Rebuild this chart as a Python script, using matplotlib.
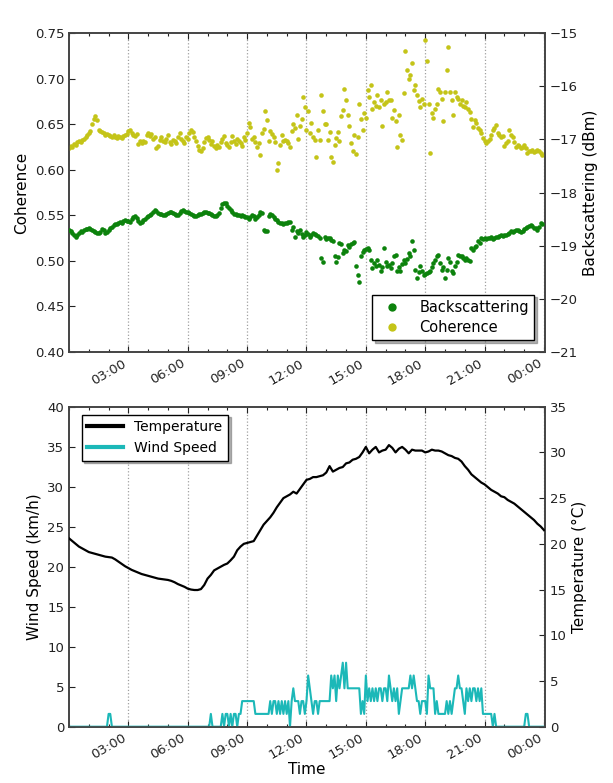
import numpy as np
import matplotlib
matplotlib.use("Agg")
import matplotlib.pyplot as plt
from matplotlib.ticker import FixedLocator, FuncFormatter, MultipleLocator
from matplotlib.lines import Line2D

# ---- 5-minute radar samples (one row per hour, 00:00 .. 23:55) ----
coherence = [
    0.624, 0.626, 0.625, 0.628, 0.627, 0.630, 0.631, 0.630, 0.633, 0.634, 0.636, 0.638,  # 00h
    0.640, 0.643, 0.650, 0.656, 0.659, 0.655, 0.644, 0.642, 0.641, 0.640, 0.638, 0.639,  # 01h
    0.638, 0.637, 0.636, 0.638, 0.636, 0.635, 0.637, 0.636, 0.635, 0.637, 0.638, 0.639,  # 02h
    0.642, 0.644, 0.640, 0.638, 0.637, 0.639, 0.628, 0.631, 0.629, 0.632, 0.630, 0.638,  # 03h
    0.640, 0.637, 0.639, 0.634, 0.636, 0.624, 0.626, 0.633, 0.636, 0.632, 0.630, 0.634,  # 04h
    0.638, 0.630, 0.628, 0.633, 0.631, 0.629, 0.636, 0.640, 0.634, 0.631, 0.629, 0.636,  # 05h
    0.634, 0.640, 0.644, 0.641, 0.636, 0.632, 0.626, 0.622, 0.620, 0.624, 0.630, 0.635,  # 06h
    0.636, 0.633, 0.628, 0.631, 0.626, 0.624, 0.627, 0.625, 0.630, 0.634, 0.637, 0.629,  # 07h
    0.627, 0.625, 0.630, 0.637, 0.631, 0.628, 0.634, 0.632, 0.629, 0.626, 0.636, 0.633,  # 08h
    0.640, 0.651, 0.647, 0.634, 0.636, 0.630, 0.625, 0.629, 0.616, 0.640, 0.645, 0.664,  # 09h
    0.655, 0.632, 0.643, 0.639, 0.636, 0.630, 0.600, 0.607, 0.627, 0.638, 0.631, 0.633,  # 10h
    0.631, 0.629, 0.625, 0.643, 0.650, 0.646, 0.660, 0.634, 0.648, 0.656, 0.680, 0.669,  # 11h
    0.644, 0.664, 0.640, 0.651, 0.636, 0.633, 0.614, 0.644, 0.633, 0.682, 0.664, 0.650,  # 12h
    0.650, 0.633, 0.641, 0.614, 0.609, 0.627, 0.635, 0.641, 0.631, 0.659, 0.665, 0.689,  # 13h
    0.677, 0.660, 0.648, 0.629, 0.620, 0.638, 0.617, 0.636, 0.672, 0.656, 0.644, 0.662,  # 14h
    0.657, 0.687, 0.680, 0.693, 0.667, 0.674, 0.670, 0.682, 0.669, 0.677, 0.648, 0.672,  # 15h
    0.674, 0.685, 0.677, 0.676, 0.657, 0.665, 0.653, 0.625, 0.660, 0.638, 0.633, 0.684,  # 16h
    0.730, 0.709, 0.699, 0.704, 0.717, 0.687, 0.693, 0.682, 0.675, 0.669, 0.678, 0.672,  # 17h
    0.742, 0.719, 0.672, 0.618, 0.662, 0.657, 0.667, 0.672, 0.688, 0.685, 0.678, 0.653,  # 18h
    0.685, 0.709, 0.735, 0.685, 0.677, 0.660, 0.685, 0.680, 0.678, 0.672, 0.676, 0.670,  # 19h
    0.669, 0.674, 0.667, 0.663, 0.656, 0.647, 0.655, 0.651, 0.646, 0.644, 0.640, 0.635,  # 20h
    0.632, 0.629, 0.631, 0.634, 0.638, 0.644, 0.646, 0.649, 0.640, 0.638, 0.636, 0.637,  # 21h
    0.626, 0.629, 0.631, 0.644, 0.638, 0.636, 0.630, 0.625, 0.627, 0.626, 0.624, 0.625,  # 22h
    0.627, 0.624, 0.618, 0.621, 0.620, 0.622, 0.619, 0.621, 0.622, 0.620, 0.618, 0.616,  # 23h
]

backscattering = [
    -18.70, -18.72, -18.76, -18.80, -18.83, -18.80, -18.76, -18.73, -18.74, -18.71, -18.69, -18.68,  # 00h
    -18.67, -18.69, -18.71, -18.73, -18.74, -18.76, -18.77, -18.75, -18.68, -18.70, -18.76, -18.74,  # 01h
    -18.70, -18.67, -18.64, -18.62, -18.60, -18.59, -18.58, -18.56, -18.57, -18.54, -18.52, -18.53,  # 02h
    -18.54, -18.55, -18.50, -18.47, -18.45, -18.48, -18.53, -18.58, -18.55, -18.52, -18.49, -18.47,  # 03h
    -18.45, -18.43, -18.40, -18.36, -18.33, -18.35, -18.38, -18.40, -18.41, -18.42, -18.43, -18.41,  # 04h
    -18.39, -18.37, -18.36, -18.38, -18.41, -18.43, -18.42, -18.39, -18.35, -18.33, -18.35, -18.36,  # 05h
    -18.37, -18.38, -18.40, -18.42, -18.44, -18.45, -18.43, -18.41, -18.40, -18.38, -18.37, -18.37,  # 06h
    -18.38, -18.39, -18.40, -18.42, -18.44, -18.45, -18.43, -18.38, -18.30, -18.22, -18.19, -18.20,  # 07h
    -18.25, -18.30, -18.33, -18.37, -18.40, -18.41, -18.42, -18.43, -18.44, -18.43, -18.45, -18.46,  # 08h
    -18.47, -18.49, -18.46, -18.43, -18.45, -18.49, -18.47, -18.42, -18.37, -18.39, -18.70, -18.73,  # 09h
    -18.72, -18.45, -18.40, -18.43, -18.46, -18.49, -18.52, -18.55, -18.58, -18.57, -18.59, -18.58,  # 10h
    -18.57, -18.56, -18.55, -18.70, -18.64, -18.83, -18.73, -18.76, -18.70, -18.78, -18.83, -18.80,  # 11h
    -18.74, -18.78, -18.83, -18.79, -18.76, -18.78, -18.80, -18.82, -18.86, -19.24, -19.30, -18.84,  # 12h
    -18.88, -18.85, -18.86, -18.89, -18.91, -19.20, -19.30, -19.22, -18.95, -18.97, -19.14, -19.08,  # 13h
    -19.10, -18.99, -19.02, -18.96, -18.95, -18.94, -19.39, -19.55, -19.68, -19.20, -19.12, -19.08,  # 14h
    -19.06, -19.05, -19.08, -19.26, -19.42, -19.33, -19.39, -19.26, -19.36, -19.48, -19.40, -19.05,  # 15h
    -19.30, -19.39, -19.36, -19.42, -19.33, -19.20, -19.17, -19.48, -19.41, -19.48, -19.35, -19.26,  # 16h
    -19.33, -19.25, -19.14, -19.20, -18.92, -19.08, -19.45, -19.61, -19.50, -19.39, -19.48, -19.55,  # 17h
    -19.54, -19.52, -19.50, -19.48, -19.40, -19.33, -19.26, -19.20, -19.17, -19.33, -19.45, -19.40,  # 18h
    -19.61, -19.45, -19.24, -19.30, -19.48, -19.52, -19.39, -19.30, -19.17, -19.19, -19.20, -19.23,  # 19h
    -19.26, -19.24, -19.26, -19.28, -19.05, -19.08, -19.02, -19.00, -18.92, -18.95, -18.86, -18.88,  # 20h
    -18.86, -18.88, -18.85, -18.86, -18.84, -18.87, -18.85, -18.83, -18.84, -18.82, -18.80, -18.81,  # 21h
    -18.80, -18.79, -18.78, -18.76, -18.73, -18.74, -18.72, -18.70, -18.71, -18.73, -18.74, -18.72,  # 22h
    -18.69, -18.67, -18.65, -18.63, -18.61, -18.63, -18.66, -18.67, -18.70, -18.65, -18.58, -18.60,  # 23h
]

# ---- weather station: wind every 5 min (00:00 .. 24:00) ----
wind_speed = [
    0, 0, 0, 0, 0, 0, 0, 0, 0, 0, 0, 0,                                # 00h
    0, 0, 0, 0, 0, 0, 0, 0, 0, 0, 0, 0,                                # 01h
    1.6, 1.6, 0, 0, 0, 0, 0, 0, 0, 0, 0, 0,                            # 02h
    0, 0, 0, 0, 0, 0, 0, 0, 0, 0, 0, 0,                                # 03h
    0, 0, 0, 0, 0, 0, 0, 0, 0, 0, 0, 0,                                # 04h
    0, 0, 0, 0, 0, 0, 0, 0, 0, 0, 0, 0,                                # 05h
    0, 0, 0, 0, 0, 0, 0, 0, 0, 0, 0, 0,                                # 06h
    0, 0, 1.6, 0, 0, 0, 0, 0, 0, 1.6, 0, 1.6,                          # 07h
    1.6, 0, 1.6, 0, 1.6, 1.6, 0, 1.6, 1.6, 3.2, 3.2, 3.2,              # 08h
    3.2, 3.2, 3.2, 3.2, 3.2, 1.6, 1.6, 1.6, 1.6, 1.6, 1.6, 1.6,        # 09h
    1.6, 1.6, 3.2, 1.6, 3.2, 3.2, 1.6, 3.2, 1.6, 3.2, 1.6, 3.2,        # 10h
    1.6, 3.2, 0, 3.2, 4.8, 3.2, 3.2, 3.2, 1.6, 3.2, 3.2, 1.6,          # 11h
    3.2, 6.4, 4.8, 3.2, 1.6, 3.2, 3.2, 1.6, 3.2, 3.2, 3.2, 3.2,        # 12h
    3.2, 3.2, 3.2, 6.4, 4.8, 6.4, 3.2, 6.4, 4.8, 6.4, 8.0, 4.8,        # 13h
    8.0, 4.8, 4.8, 4.8, 4.8, 4.8, 4.8, 4.8, 4.8, 1.6, 3.2, 1.6,        # 14h
    6.4, 3.2, 4.8, 3.2, 4.8, 3.2, 4.8, 3.2, 4.8, 4.8, 3.2, 4.8,        # 15h
    4.8, 3.2, 6.4, 4.8, 3.2, 4.8, 3.2, 4.8, 1.6, 3.2, 4.8, 4.8,        # 16h
    4.8, 4.8, 4.8, 6.4, 4.8, 6.4, 4.8, 3.2, 3.2, 1.6, 3.2, 3.2,        # 17h
    3.2, 1.6, 6.4, 4.8, 4.8, 4.8, 1.6, 3.2, 1.6, 1.6, 1.6, 1.6,        # 18h
    1.6, 3.2, 1.6, 3.2, 1.6, 3.2, 4.8, 4.8, 6.4, 4.8, 4.8, 3.2,        # 19h
    1.6, 4.8, 3.2, 4.8, 3.2, 4.8, 4.8, 3.2, 4.8, 3.2, 4.8, 1.6,        # 20h
    1.6, 1.6, 1.6, 1.6, 1.6, 0, 1.6, 0, 0, 0, 0, 0,                    # 21h
    0, 0, 0, 0, 0, 0, 0, 0, 0, 0, 0, 0,                                # 22h
    0, 1.6, 1.6, 0, 0, 0, 0, 0, 0, 0, 0, 0,                            # 23h
    0,                                                                  # 24:00
]

# ---- air temperature every 10 min (00:00 .. 24:00) ----
temperature = [
    20.6, 20.3, 20.0, 19.7, 19.5, 19.3,   # 00h
    19.1, 19.0, 18.9, 18.8, 18.7, 18.6,   # 01h
    18.55, 18.5, 18.3, 18.05, 17.8, 17.55,  # 02h
    17.35, 17.15, 17.0, 16.85, 16.7, 16.6,  # 03h
    16.5, 16.4, 16.3, 16.2, 16.15, 16.1,  # 04h
    16.05, 15.95, 15.8, 15.6, 15.45, 15.3,  # 05h
    15.1, 15.0, 14.95, 14.95, 15.05, 15.5,  # 06h
    16.2, 16.6, 17.1, 17.3, 17.5, 17.7,   # 07h
    17.85, 18.2, 18.6, 19.3, 19.7, 20.0,  # 08h
    20.1, 20.2, 20.3, 20.9, 21.5, 22.1,   # 09h
    22.5, 22.9, 23.4, 24.0, 24.5, 25.0,   # 10h
    25.2, 25.4, 25.7, 25.5, 26.0, 26.5,   # 11h
    27.0, 27.1, 27.3, 27.3, 27.4, 27.5,   # 12h
    27.8, 28.5, 27.9, 28.1, 28.3, 28.4,   # 13h
    28.8, 28.9, 29.2, 29.3, 29.5, 30.0,   # 14h
    30.6, 29.9, 30.3, 30.6, 30.0, 30.2,   # 15h
    30.3, 30.8, 30.5, 30.0, 30.4, 30.6,   # 16h
    30.3, 29.9, 30.3, 30.2, 30.2, 30.2,   # 17h
    30.0, 30.1, 30.3, 30.2, 30.2, 30.1,   # 18h
    29.9, 29.7, 29.6, 29.4, 29.3, 29.0,   # 19h
    28.5, 28.1, 27.6, 27.3, 27.0, 26.7,   # 20h
    26.5, 26.2, 25.9, 25.7, 25.5, 25.2,   # 21h
    25.1, 24.8, 24.6, 24.4, 24.1, 23.8,   # 22h
    23.5, 23.2, 22.9, 22.6, 22.2, 21.9,   # 23h
    21.5,                                 # 24:00
]

hour_ticks = [3, 6, 9, 12, 15, 18, 21, 24]

# sample times in hours since midnight
t_radar = np.arange(len(coherence)) * 5 / 60
t_wind = np.arange(len(wind_speed)) * 5 / 60
t_temp = np.arange(len(temperature)) * 10 / 60

GREEN = "#0c820c"
YELLOW = "#c4c418"
CYAN = "#1cb8b8"
SPINE = "#444444"

plt.rcParams.update({
    "font.family": ["DejaVu Sans"],
    "font.size": 9.5,
    "axes.edgecolor": SPINE,
    "axes.linewidth": 1.2,
    "xtick.direction": "in",
    "ytick.direction": "in",
    "xtick.color": "#222222",
    "ytick.color": "#222222",
})


def hhmm(v, _pos):
    return "%02d:00" % (int(round(v)) % 24)


def style_time_axis(ax):
    ax.set_xlim(0, 24.05)
    ax.xaxis.set_major_locator(FixedLocator(hour_ticks))
    ax.xaxis.set_minor_locator(MultipleLocator(1))
    ax.xaxis.set_major_formatter(FuncFormatter(hhmm))
    ax.tick_params(axis="x", which="both", top=True, bottom=True)
    ax.tick_params(axis="x", which="major", length=4, width=0.8)
    ax.tick_params(axis="x", which="minor", length=2.5, width=0.8)
    ax.grid(True, axis="x", which="major", linestyle=":", color="#a0a0a0", linewidth=0.9)
    for lbl in ax.get_xticklabels():
        lbl.set_rotation(30)
        lbl.set_ha("right")


LEGEND_SHADOW = {"color": "0.35", "alpha": 0.45}

fig = plt.figure(figsize=(6.13, 7.83), dpi=100)

# ---------------- radar panel ----------------
ax1 = fig.add_axes([0.1126, 0.5504, 0.7764, 0.4075])
ax1b = ax1.twinx()
ax1.plot(t_radar, coherence, ls="none", marker="o", ms=3.3, mew=0,
         color=YELLOW, zorder=3)
ax1b.plot(t_radar, backscattering, ls="none", marker="o", ms=3.3, mew=0,
          color=GREEN, zorder=3)
ax1.set_ylim(0.40, 0.75)
ax1.yaxis.set_major_locator(MultipleLocator(0.05))
ax1.yaxis.set_major_formatter(FuncFormatter(lambda v, p: "%.2f" % v))
ax1b.set_ylim(-21, -15)
ax1b.yaxis.set_major_locator(MultipleLocator(1))
ax1.set_ylabel("Coherence", fontsize=11)
ax1b.set_ylabel("Backscattering (dBm)", fontsize=11)
for a in (ax1, ax1b):
    a.tick_params(axis="y", length=4, width=0.8)
    style_time_axis(a)
ax1b.grid(False)
radar_handles = [
    Line2D([], [], ls="none", marker="o", ms=6, mew=0, color=GREEN),
    Line2D([], [], ls="none", marker="o", ms=6, mew=0, color=YELLOW),
]
leg1 = ax1b.legend(radar_handles, ["Backscattering", "Coherence"],
                   loc="lower right", numpoints=1, fancybox=False,
                   shadow=LEGEND_SHADOW,
                   fontsize=10.5, borderpad=0.35, handletextpad=0.9,
                   labelspacing=0.35, bbox_to_anchor=(0.993, 0.015))
leg1.get_frame().set_edgecolor("black")
leg1.get_frame().set_linewidth(1.0)

# ---------------- weather panel ----------------
ax2 = fig.add_axes([0.1126, 0.0719, 0.7764, 0.4087])
ax2b = ax2.twinx()
ax2.plot(t_wind, wind_speed, color=CYAN, lw=1.5, zorder=3)
ax2b.plot(t_temp, temperature, color="black", lw=1.6, zorder=3)
ax2.set_ylim(0, 40)
ax2.yaxis.set_major_locator(MultipleLocator(5))
ax2b.set_ylim(0, 35)
ax2b.yaxis.set_major_locator(MultipleLocator(5))
ax2.set_ylabel("Wind Speed (km/h)", fontsize=11)
ax2b.set_ylabel("Temperature (°C)", fontsize=11)
ax2.set_xlabel("Time", fontsize=11, labelpad=0)
for a in (ax2, ax2b):
    a.tick_params(axis="y", length=4, width=0.8)
    style_time_axis(a)
ax2b.grid(False)
weather_handles = [
    Line2D([], [], color="black", lw=3),
    Line2D([], [], color=CYAN, lw=3),
]
leg2 = ax2b.legend(weather_handles, ["Temperature", "Wind Speed"],
                   loc="upper left", fancybox=False,
                   shadow=LEGEND_SHADOW,
                   fontsize=10, borderpad=0.4, handlelength=2.6,
                   handletextpad=0.8, bbox_to_anchor=(0.012, 0.997))
leg2.get_frame().set_edgecolor("black")
leg2.get_frame().set_linewidth(1.0)

fig.savefig("out.png", dpi=100)
